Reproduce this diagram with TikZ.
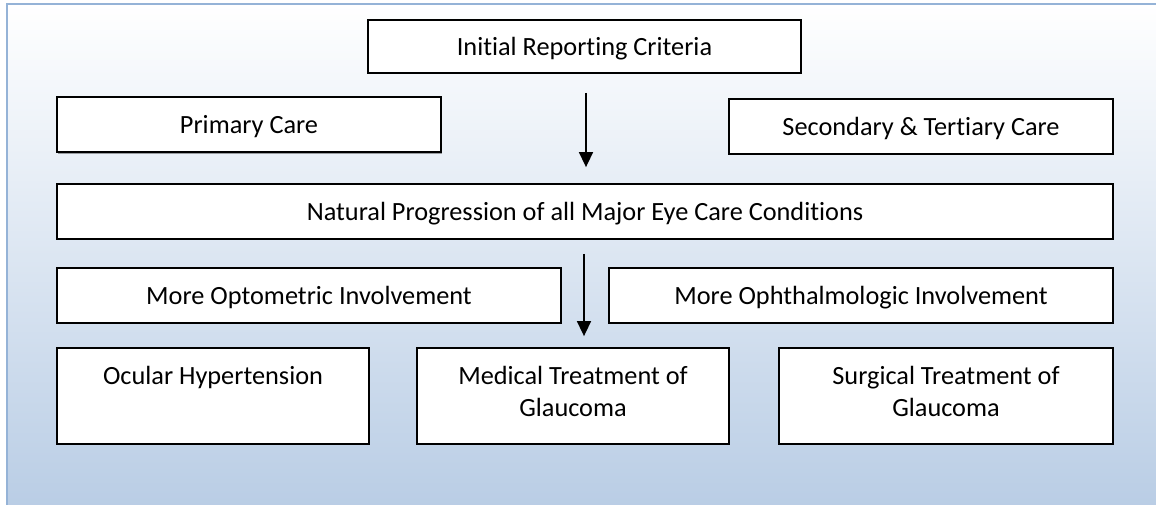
\documentclass[tikz,border=0pt]{standalone}
\usepackage{fontspec}
\setmainfont{Carlito}[Ligatures=NoCommon]
\usetikzlibrary{arrows.meta,shadows}
\definecolor{framecol}{RGB}{149,179,215}
\definecolor{bgbottom}{RGB}{185,205,229}
\tikzset{
  flowbox/.style={draw=black, line width=1.8pt, fill=white, rectangle, inner sep=0pt,
    font=\fontsize{26.3}{32}\selectfont,
    drop shadow={shadow xshift=1pt, shadow yshift=-1.2pt, opacity=0.35, fill=black}},
  linebox/.style={flowbox, text height=20pt, text depth=3pt},
  flowarrow/.style={draw=black, line width=1.6pt, -{Triangle[length=15pt,width=14pt]}}
}
\newcommand{\topbox}[3]{\parbox[c][#2][t]{#1}{\centering\vspace{18pt}#3\par}}
\begin{document}
\begin{tikzpicture}[x=1pt,y=-1pt]
\useasboundingbox (0,0) rectangle (1156,504);
\fill[white] (0,0) rectangle (1156,504);
\shade[top color=white, bottom color=bgbottom] (7,4) rectangle (1162,508);
\draw[framecol, line width=2.5pt] (7,510) -- (7,4) -- (1162,4);

\node[linebox, minimum width=433pt, minimum height=53pt] (init) at (584.5,46.5) {Initial Reporting Criteria};
\node[linebox, minimum width=384pt, minimum height=55pt] (prim) at (249,124.8) {Primary Care};
\node[linebox, minimum width=384pt, minimum height=55pt] (sec) at (921,126.5) {Secondary \& Tertiary Care};
\node[linebox, minimum width=1056pt, minimum height=55pt] (nat) at (585,211.5) {Natural Progression of all Major Eye Care Conditions};
\node[linebox, minimum width=504pt, minimum height=55pt] (opt) at (309,295.5) {More Optometric Involvement};
\node[linebox, minimum width=504pt, minimum height=55pt] (oph) at (861,295.5) {More Ophthalmologic Involvement};
\node[flowbox] (ocu) at (213,396) {\topbox{312pt}{96pt}{Ocular Hypertension}};
\node[flowbox] (med) at (573,396) {\topbox{312pt}{96pt}{Medical Treatment of\\Glaucoma}};
\node[flowbox] (sur) at (946,396) {\topbox{334pt}{96pt}{Surgical Treatment of\\Glaucoma}};

\draw[flowarrow] ([shift={(1.5,19)}]init.south) -- ([shift={(1,-16)}]nat.north);
\draw[flowarrow] ([shift={(-1,14)}]nat.south) -- ([shift={(11,-11)}]med.north);
\end{tikzpicture}
\end{document}
